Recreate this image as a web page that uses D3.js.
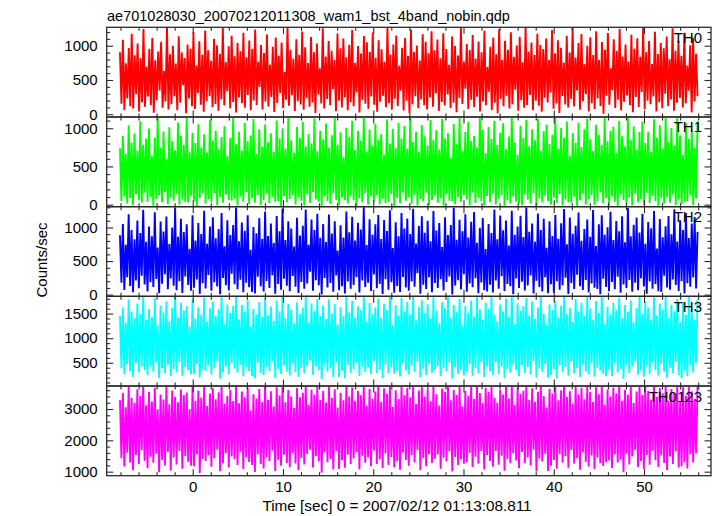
<!DOCTYPE html>
<html><head><meta charset="utf-8">
<script src="https://cdn.jsdelivr.net/npm/d3@7/dist/d3.min.js"></script>
<style>body{margin:0;background:#fff}svg{display:block}</style>
</head><body>
<svg id="c" width="717" height="516"></svg>
<script>
const title = "ae701028030_20070212011308_wam1_bst_4band_nobin.qdp";
const xLabel = "Time [sec] 0 = 2007/02/12 01:13:08.811";
const yLabel = "Counts/sec";
const bandNames = ["TH0", "TH1", "TH2", "TH3", "TH0123"];
const yDomains = [[-40, 1269], [-26, 1147], [-25, 1310], [28, 1850], [872, 3734]];
const yMajorTicks = [[0, 500, 1000], [0, 500, 1000], [0, 500, 1000], [500, 1000, 1500], [1000, 2000, 3000]];
const yMinorStep = [100, 100, 100, 100, 200];
const xDomain = [-9.53, 57.42];
const xMajorTicks = [0, 10, 20, 30, 40, 50];
const xMinorStep = 2;
const tStart = -8.06, tEnd = 55.93;

const th0 = [
904,152,1087,63,745,231,968,118,1176,84,862,297,1031,41,818,176,1245,109,693,
260,957,133,1112,22,786,204,915,347,1058,96,632,188,1283,71,874,145,998,262,741,
57,1139,168,903,425,820,13,1016,229,955,117,1198,76,712,311,1064,140,867,38,1222,
193,935,262,779,102,1101,149,1008,52,884,216,1261,128,760,337,991,87,1147,179,
846,24,1040,243,918,161,1189,95,832,280,1075,59,956,201,1238,136,766,398,1012,
71,893,187,1162,114,727,252,983,33,1119,165,852,309,1045,90,615,213,1271,124,941,
276,808,47,1093,190,869,141,1206,65,979,234,749,108,1127,172,905,18,1032,289,672,
156,1254,83,844,222,1068,131,926,364,795,45,1177,199,962,97,1104,247,830,58,1015,
175,1229,118,746,318,997,26,887,207,1141,153,1051,79,910,258,1193,139,823,36,
1079,183,948,271,764,102,1266,162,872,67,1017,228,1150,121,706,342,969,54,1113,196,
851,11,1236,145,913,263,1002,89,784,214,1166,133,1057,69,889,245,1210,110,935,
305,1090,48,817,179,1183,127,951,287,722,91,1134,167,996,29,858,238,1277,150,769,
373,1026,76,938,211,1158,104,814,255,1063,40,905,186,1218,132,690,330,985,63,1118,
169,877,15,1241,224,796,117,1071,271,942,84,1196,148,838,359,1003,51,1129,203,757,
94,1259,134,917,282,1046,60,863,197,1173,125,1012,35,952,240,1106,171,790,318,
1228,81,889,158,1081,20,971,266,753,143,1144,98,901,224,1265,113,826,348,1039,66,
1170,189,729,294,998,42,1123,160,866,78,1212,231,792,121,1055,7,940,269,1187,138,
670,356,1094,92,921,213,1248,56,844,182,1018,273,768,130,1161,28,957,251,1109,106,
838,324,1273,70,906,196,1067,148,734,261,1202,39,879,175,1038,87,964,300,1135,119,
801,215,1254,52,927,168,1074,236,854,97,1190,156,712,343,1006,25,1117,187,883,262
];
const th1 = [
737,48,902,112,665,17,1038,86,812,-6,931,134,704,59,1091,25,782,158,864,
39,996,101,642,-14,877,73,1129,121,749,33,958,167,601,8,1012,95,829,52,713,
140,1076,-2,897,66,782,34,1144,28,685,117,941,44,806,-19,1053,88,752,149,920,
13,683,71,1109,36,838,154,967,-8,727,98,884,24,1025,130,640,61,872,55,1136,
79,791,-11,952,108,709,41,1067,162,829,5,903,84,1119,27,664,125,985,-4,758,
62,1048,143,816,18,934,97,690,40,1102,47,869,-17,996,115,732,30,1141,76,841,
128,679,3,1017,90,876,52,1083,-9,760,136,925,21,802,164,1126,68,697,38,968,
-13,855,110,1061,45,741,9,909,147,1132,63,784,-5,946,94,620,58,1005,16,887,
118,1099,57,716,-21,963,81,837,31,1139,152,694,-1,982,106,771,42,1058,123,849,
6,923,70,655,22,1115,35,801,137,990,-16,744,87,1072,20,866,159,1028,50,731,
99,1145,12,818,131,956,-10,688,74,1041,43,893,155,773,-3,1106,60,849,119,977,
26,721,85,1121,-15,866,141,937,53,612,49,1054,7,791,102,1134,37,700,126,951,
69,1083,-7,832,160,898,23,746,92,1137,48,979,-12,673,113,1016,31,858,145,1097,
1,780,77,940,122,1064,-20,725,58,893,17,1146,103,816,40,657,13,1033,-6,873,
133,1110,64,763,11,986,150,843,-13,1125,82,705,29,961,116,1049,46,796,-1,912,
91,1140,19,732,138,1002,-9,876,67,1089,34,641,27,937,105,809,-18,1070,56,754,
148,989,4,1128,72,857,124,700,-4,1045,44,915,161,784,15,1143,87,829,-11,966,
107,1019,37,678,-16,1099,129,895,61,762,8,1134,93,843,-7,1024,142,717,32,950,
75,1086,-2,805,157,953,22,692,116,1118,49,879,-14,1037,83,736,14,1143,100,822,
27,1004,134,777,-8,1130,66,904,10,649,36,1066,41,859,121,971,-5,747,81,1093
];
const th2 = [
883,176,1052,71,742,259,1196,128,961,38,826,213,1105,95,918,282,1263,152,787,
49,1015,187,869,115,1227,233,701,20,1089,164,940,306,1162,82,753,241,998,132,1290,
67,862,199,1131,26,931,270,1047,143,682,58,1183,104,805,227,1068,12,902,169,1249,
93,758,293,1015,57,1152,185,839,121,977,6,1215,248,720,140,1106,63,889,312,1035,
154,1298,80,794,222,1074,35,951,176,1180,110,667,41,1008,17,913,266,1139,126,831,
47,1237,205,872,101,1059,291,768,14,1170,158,945,73,1284,236,815,133,1092,52,986,
279,716,117,1145,25,879,190,1026,88,1267,167,743,340,1118,60,961,214,1205,139,846,
3,1052,250,784,108,1193,174,910,44,1094,287,656,66,1032,124,851,19,1236,197,927,
87,1161,145,804,262,1071,31,968,210,1301,115,737,178,1124,53,893,299,1046,96,1187,
161,829,10,1110,230,947,75,1257,185,694,29,1079,131,870,40,1215,264,985,106,1135,
58,903,196,1278,119,762,320,1022,15,1168,147,923,83,1099,258,795,36,1244,174,956,
98,1065,229,708,64,1152,188,886,271,1037,1,1295,135,817,215,1116,79,942,303,1198,
42,850,167,1084,110,1229,244,771,22,996,180,1141,68,678,47,1050,149,917,33,1268,
212,824,90,1177,275,960,56,1103,159,733,125,1250,8,890,240,1013,100,1173,193,858,
61,1297,138,935,285,1060,18,786,207,1209,113,961,47,1128,260,697,23,1091,155,874,
27,1186,201,832,73,1061,142,1275,253,749,11,1150,173,908,86,1025,297,1222,127,802,
70,976,219,1120,34,862,165,1260,102,725,85,1046,5,1183,238,891,114,1003,52,1233,
189,815,81,1097,267,944,28,1166,151,780,97,1288,218,870,43,1040,178,1149,65,926,
246,1205,121,758,13,1081,195,990,87,1246,160,688,51,1127,39,854,281,1019,108,1172,
72,898,226,1270,143,792,55,1108,201,964,18,1217,170,843,118,1058,256,1154,91,935
];
const th3 = [
1452,387,1621,264,1318,471,1787,329,1539,212,1406,498,1702,301,1488,421,1846,355,1372,
246,1590,440,1437,318,1811,507,1263,188,1664,393,1519,283,1748,456,1347,229,1612,372,1880,
302,1425,518,1719,237,1560,411,1654,345,1244,265,1795,274,1398,477,1630,199,1473,362,1826,
336,1331,449,1607,256,1740,392,1453,530,1588,174,1862,310,1289,428,1684,265,1511,487,1651,
383,1859,297,1380,461,1676,221,1534,408,1771,327,1226,230,1597,181,1481,503,1733,288,1434,
251,1813,416,1467,333,1641,525,1351,196,1763,374,1545,272,1874,444,1408,316,1697,243,1580,
480,1302,306,1724,217,1492,397,1618,281,1846,434,1318,542,1705,258,1553,419,1791,348,1450,
167,1663,467,1387,320,1783,390,1501,211,1694,513,1276,205,1627,339,1443,186,1836,452,1525,
292,1754,364,1421,489,1647,233,1568,425,1871,312,1335,401,1716,268,1479,534,1622,295,1806,
354,1410,185,1700,457,1574,287,1842,403,1262,276,1669,326,1457,222,1817,493,1549,343,1738,
263,1483,438,1859,313,1362,520,1634,207,1771,381,1506,248,1691,475,1398,296,1829,366,1560,
437,1304,228,1730,389,1608,329,1857,502,1416,178,1672,415,1528,279,1795,359,1250,241,1656,
320,1520,471,1763,239,1441,398,1869,284,1585,511,1367,214,1717,427,1600,331,1841,245,1473,
508,1345,270,1686,421,1540,193,1804,376,1433,299,1878,462,1283,352,1708,225,1556,443,1652,
289,1818,410,1462,264,1743,531,1391,201,1625,385,1850,318,1502,476,1271,198,1690,253,1570,
371,1764,183,1420,447,1657,308,1869,414,1487,235,1611,522,1330,286,1799,392,1532,210,1720,
459,1451,326,1835,260,1602,486,1375,219,1756,401,1510,341,1873,271,1295,226,1640,365,1477,
231,1712,493,1566,304,1822,379,1404,172,1675,455,1538,292,1766,418,1323,527,1615,257,1852,
344,1491,215,1747,432,1621,276,1380,514,1830,361,1458,240,1699,469,1576,316,1866,194,1413,
402,1679,287,1549,518,1803,253,1326,182,1728,339,1470,227,1851,446,1596,301,1364,497,1789
];
const th0123 = [
3284,1432,3511,1168,3057,1605,3702,1297,3356,1044,3190,1523,3630,1241,3412,1684,3739,1350,3121,
1112,3548,1476,3236,1283,3681,1577,2988,985,3462,1381,3305,1198,3749,1619,3150,1036,3593,1455,3393,
1227,3216,1659,3620,1093,3447,1502,3527,1314,3003,1190,3713,1176,3267,1553,3584,960,3358,1404,3735,
1341,3098,1520,3495,1157,3659,1429,3310,1698,3536,1011,3755,1265,3174,1590,3421,1136,3609,1489,3253,
1396,3728,1212,3187,1636,3557,1080,3378,1457,3686,1308,2952,1215,3473,993,3336,1551,3640,1249,3227,
1104,3742,1463,3299,1340,3567,1671,3081,1019,3698,1383,3434,1190,3753,1538,3212,1277,3603,1142,3397,
1592,3028,1259,3671,1055,3376,1439,3516,1229,3748,1568,3139,1702,3615,1133,3452,1494,3720,1326,3291,
965,3577,1615,3204,1303,3709,1406,3355,1073,3633,1661,3046,1085,3522,1367,3279,1125,3744,1544,3401,
1246,3690,1418,3265,1625,3572,1082,3441,1507,3752,1289,3109,1452,3644,1171,3324,1680,3559,1236,3733,
1392,3233,1120,3664,1581,3485,1216,3751,1468,3066,1140,3596,1335,3318,1062,3730,1609,3437,1373,3677,
1193,3363,1525,3746,1293,3158,1687,3588,1046,3708,1426,3402,1178,3627,1560,3246,1275,3738,1412,3470,
1547,3113,1097,3655,1444,3539,1323,3754,1643,3279,1003,3610,1471,3449,1211,3711,1400,3083,1255,3575,
1304,3426,1599,3721,1151,3316,1480,3760,1257,3510,1665,3188,1067,3682,1537,3540,1344,3736,1162,3358,
1654,3200,1221,3605,1508,3460,1030,3750,1395,3332,1270,3755,1584,3131,1361,3694,1115,3490,1629,3585,
1272,3740,1450,3299,1198,3663,1701,3234,1008,3552,1415,3745,1329,3415,1573,3050,1022,3648,1187,3493,
1374,3712,1091,3283,1560,3598,1284,3752,1490,3384,1129,3567,1690,3173,1258,3730,1432,3466,1061,3676,
1611,3308,1321,3743,1167,3541,1519,3225,1085,3693,1443,3467,1271,3757,1181,3134,1305,3620,1356,3399,
1116,3686,1546,3499,1297,3741,1388,3261,980,3612,1578,3452,1233,3707,1485,3191,1697,3560,1148,3749,
1342,3445,1087,3701,1531,3577,1222,3296,1670,3738,1369,3388,1154,3669,1516,3506,1280,3756,1057,3266,
1482,3639,1244,3513,1641,3742,1132,3224,1178,3692,1312,3419,1106,3746,1563,3565,1294,3287,1593,3723
];
const seriesValues = [th0, th1, th2, th3, th0123];

// ---------- drawing ----------
const colors = ["#ff0000", "#00ff00", "#0000ff", "#00ffff", "#ff00ff"];
const FONT = "'Liberation Sans', Arial, Helvetica, sans-serif";
const frame = { left: 106.7, right: 711, top: 27.3, bottom: 475.7 };
const panelH = (frame.bottom - frame.top) / seriesValues.length;
const axisColor = "#2a2a2a";

const svg = d3.select("#c");
const x = d3.scaleLinear().domain(xDomain).range([frame.left, frame.right]);

function minorTicks(domain, step) {
  const lo = Math.ceil(domain[0] / step) * step;
  const hi = Math.floor(domain[1] / step) * step;
  return d3.range(lo, hi + step / 2, step);
}
const xMinor = minorTicks(xDomain, xMinorStep).filter(v => !xMajorTicks.includes(v));

function styleAxis(g) {
  g.select(".domain").remove();
  g.selectAll(".tick line").attr("stroke", axisColor).attr("stroke-width", 1.1);
  g.selectAll(".tick text").attr("fill", "#000").attr("font-family", FONT).attr("font-size", 15);
}

svg.append("text")
  .attr("x", 107).attr("y", 20.5)
  .attr("font-family", FONT).attr("font-size", 14.5).attr("fill", "#000")
  .text(title);

seriesValues.forEach((vals, k) => {
  const y0 = frame.top + k * panelH, y1 = y0 + panelH;
  const y = d3.scaleLinear().domain(yDomains[k]).range([y1, y0]);
  const n = vals.length;
  const times = vals.map((_, i) => tStart + i * (tEnd - tStart) / (n - 1));
  const g = svg.append("g");

  const clipId = "clip" + k;
  svg.append("clipPath").attr("id", clipId)
    .append("rect").attr("x", frame.left).attr("y", y0)
    .attr("width", frame.right - frame.left).attr("height", panelH);

  const line = d3.line().x((d, i) => x(times[i])).y(d => y(d));
  g.append("path").datum(vals)
    .attr("clip-path", `url(#${clipId})`)
    .attr("fill", "none").attr("stroke", colors[k])
    .attr("stroke-width", 1.9).attr("stroke-linejoin", "bevel")
    .attr("d", line);

  // y axes (left with labels, right without)
  const yMinor = minorTicks(yDomains[k], yMinorStep[k]).filter(v => !yMajorTicks[k].includes(v));
  g.append("g").attr("transform", `translate(${frame.left},0)`)
    .call(d3.axisLeft(y).tickValues(yMajorTicks[k]).tickSize(-6.5).tickPadding(9).tickFormat(d3.format("d")))
    .call(styleAxis);
  g.append("g").attr("transform", `translate(${frame.left},0)`)
    .call(d3.axisLeft(y).tickValues(yMinor).tickSize(-3.5).tickFormat(""))
    .call(styleAxis);
  g.append("g").attr("transform", `translate(${frame.right},0)`)
    .call(d3.axisRight(y).tickValues(yMajorTicks[k]).tickSize(-6.5).tickFormat(""))
    .call(styleAxis);
  g.append("g").attr("transform", `translate(${frame.right},0)`)
    .call(d3.axisRight(y).tickValues(yMinor).tickSize(-3.5).tickFormat(""))
    .call(styleAxis);

  // x ticks on top and bottom of each panel
  const last = k === seriesValues.length - 1;
  g.append("g").attr("transform", `translate(0,${y0})`)
    .call(d3.axisTop(x).tickValues(xMajorTicks).tickSize(-6.5).tickFormat(""))
    .call(styleAxis);
  g.append("g").attr("transform", `translate(0,${y0})`)
    .call(d3.axisTop(x).tickValues(xMinor).tickSize(-3.5).tickFormat(""))
    .call(styleAxis);
  g.append("g").attr("transform", `translate(0,${y1})`)
    .call(d3.axisBottom(x).tickValues(xMajorTicks).tickSize(-6.5).tickPadding(5.5)
      .tickFormat(last ? d3.format("d") : ""))
    .call(styleAxis);
  g.append("g").attr("transform", `translate(0,${y1})`)
    .call(d3.axisBottom(x).tickValues(xMinor).tickSize(-3.5).tickFormat(""))
    .call(styleAxis);

  // panel frame
  g.append("rect").attr("x", frame.left).attr("y", y0)
    .attr("width", frame.right - frame.left).attr("height", panelH)
    .attr("fill", "none").attr("stroke", axisColor).attr("stroke-width", 1.3);

  // band label
  g.append("text").attr("x", 702).attr("y", y0 + 15.5)
    .attr("text-anchor", "end").attr("font-family", FONT).attr("font-size", 15).attr("fill", "#000")
    .text(bandNames[k]);
});

svg.append("text")
  .attr("transform", "translate(46.5,260) rotate(-90)")
  .attr("text-anchor", "middle").attr("font-family", FONT).attr("font-size", 15).attr("fill", "#000")
  .text(yLabel);

svg.append("text")
  .attr("x", 397).attr("y", 511)
  .attr("text-anchor", "middle").attr("font-family", FONT).attr("font-size", 15.3).attr("fill", "#000")
  .text(xLabel);
</script>
</body></html>
